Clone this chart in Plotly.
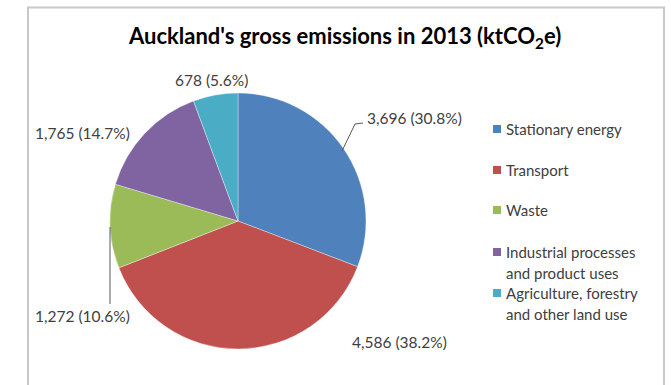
import plotly.graph_objects as go

# Auckland gross emissions by sector, 2013 (ktCO2e)
sectors = [
    "Stationary energy",
    "Transport",
    "Waste",
    "Industrial processes<br>and product uses",
    "Agriculture, forestry<br>and other land use",
]
emissions = [3696, 4586, 1272, 1765, 678]
shares = [30.8, 38.2, 10.6, 14.7, 5.6]
colors = ["#4F81BD", "#C0504D", "#9BBB59", "#8064A2", "#4BACC6"]

W, H = 671, 385


def px(x):
    return x / W


def py(y):
    return 1 - y / H


FONT = "Lato"
TXT = "#404040"

fig = go.Figure(
    go.Pie(
        labels=[s.replace("<br>", " ") for s in sectors],
        values=emissions,
        sort=False,
        direction="clockwise",
        rotation=0,
        marker=dict(colors=colors, line=dict(color="rgba(255,255,255,0.6)", width=0.6)),
        textinfo="none",
        hoverinfo="label+value+percent",
        showlegend=False,
        domain=dict(x=[px(110), px(366)], y=[py(349), py(93)]),
    )
)

# data labels placed around the pie
label_pos = [
    (365, 118, "left"),
    (350, 342, "left"),
    (33, 316, "left"),
    (33, 133, "left"),
    (211, 80, "center"),
]
annotations = []
for v, s, (x, y, anc) in zip(emissions, shares, label_pos):
    annotations.append(dict(
        x=px(x), y=py(y), xref="paper", yref="paper",
        xanchor=anc, yanchor="middle", showarrow=False,
        text=f"{v:,} ({s}%)",
        font=dict(family=FONT, size=15.5, color=TXT),
    ))

# legend drawn as swatches and text
legend_y = [129, 170, 210, 252, 293]
shapes = []
for name, col, y in zip(sectors, colors, legend_y):
    shapes.append(dict(
        type="rect", xref="paper", yref="paper",
        x0=px(493), x1=px(501), y0=py(y + 4), y1=py(y - 4),
        fillcolor=col, line=dict(width=0),
    ))
    for i, line in enumerate(name.split("<br>")):
        annotations.append(dict(
            x=px(504), y=py(y + 21 * i), xref="paper", yref="paper",
            xanchor="left", yanchor="middle", showarrow=False,
            text=line,
            font=dict(family=FONT, size=15, color=TXT),
        ))

# title
annotations.append(dict(
    x=px(344), y=py(37), xref="paper", yref="paper",
    xanchor="center", yanchor="middle", showarrow=False,
    text="Auckland's gross emissions in 2013 (ktCO<sub>2</sub>e)",
    font=dict(family=FONT, size=22, color="#000000", weight="bold"),
))

# leader lines
shapes.append(dict(
    type="path", xref="paper", yref="paper",
    path=f"M {px(342)} {py(151)} L {px(355)} {py(124)} L {px(363)} {py(123)}",
    line=dict(color="#595959", width=1),
))
shapes.append(dict(
    type="line", xref="paper", yref="paper",
    x0=px(110), x1=px(110), y0=py(227), y1=py(304),
    line=dict(color="#595959", width=1),
))

# chart frame
shapes.append(dict(
    type="rect", xref="paper", yref="paper",
    x0=px(28), x1=px(664), y0=py(400), y1=py(7.5),
    line=dict(color="#C8C8C8", width=2), fillcolor="rgba(0,0,0,0)",
))

fig.update_layout(
    width=W, height=H,
    margin=dict(l=0, r=0, t=0, b=0),
    paper_bgcolor="white",
    plot_bgcolor="white",
    annotations=annotations,
    shapes=shapes,
)

fig.write_html("out.html")
